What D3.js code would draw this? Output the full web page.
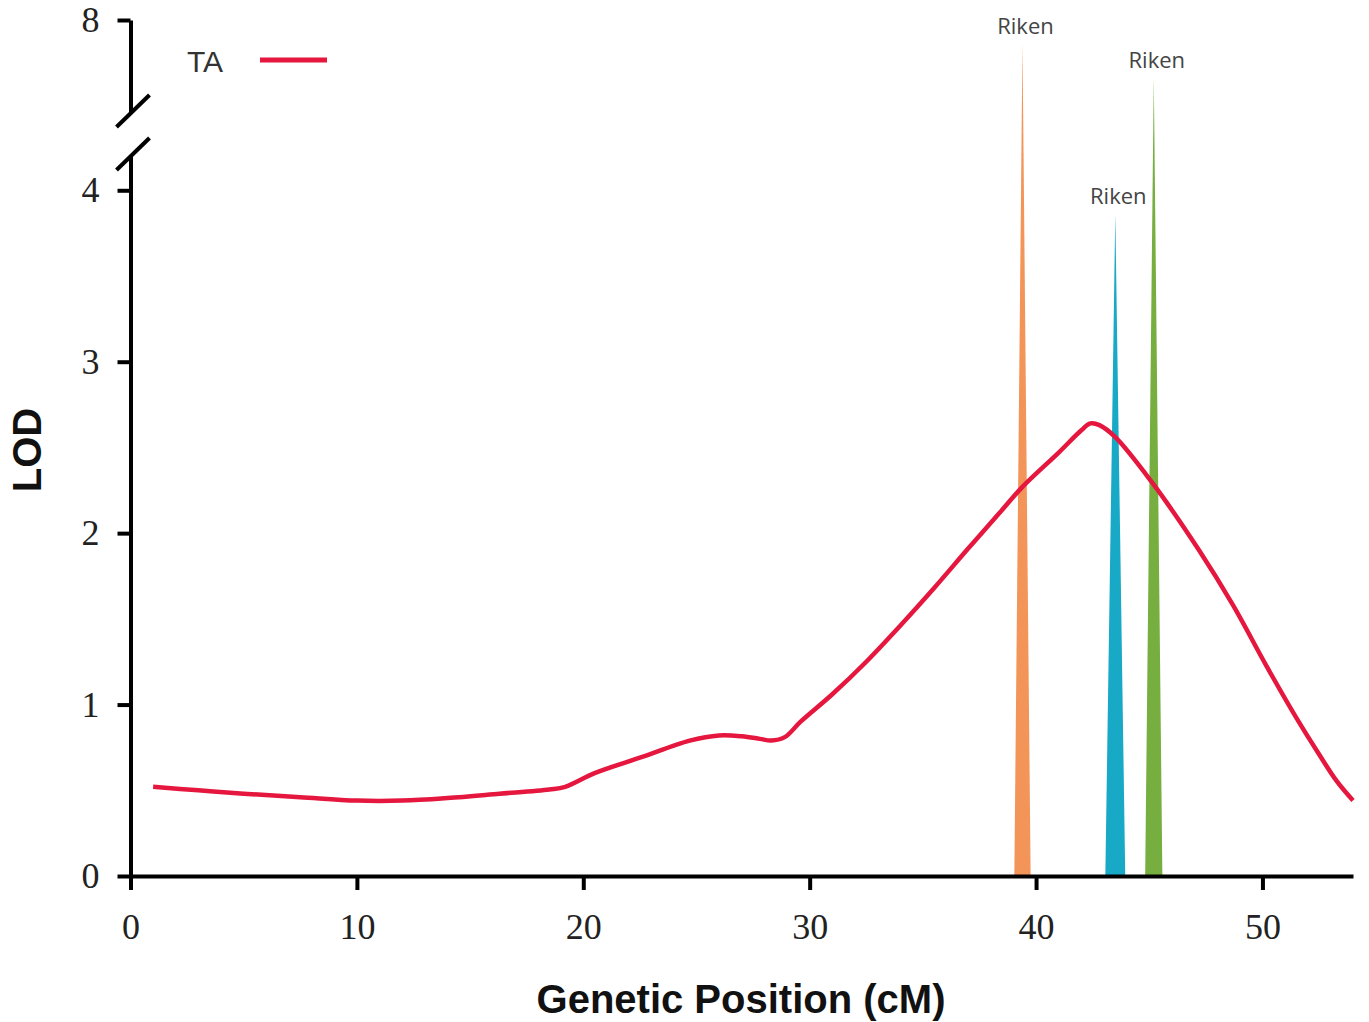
<!DOCTYPE html>
<html>
<head>
<meta charset="utf-8">
<script src="https://cdn.jsdelivr.net/npm/d3@7"></script>
<style>
  body { margin: 0; background: #fff; }
  svg { display: block; }
</style>
</head>
<body>
<div id="chart"></div>
<script>
// LOD curve for TA (position in cM, LOD score)
const positions = [1, 3, 5, 7.5, 10, 12, 14, 16.3, 18.5, 19.2, 20.5, 22.5, 24.7, 26.0, 27.0, 27.8, 28.3, 28.9,
  29.6, 31, 32.5, 34, 35.5, 37, 38.4, 39.4, 41.0, 42.0, 42.4, 42.8, 43.5, 45.1, 47.2, 48.7, 50.2, 51.6, 52.5, 53.3, 54.0];
const lodTA = [0.52, 0.50, 0.48, 0.46, 0.44, 0.44, 0.455, 0.48, 0.505, 0.52, 0.60, 0.69, 0.79, 0.82, 0.815, 0.80, 0.79, 0.81,
  0.90, 1.06, 1.25, 1.46, 1.68, 1.91, 2.12, 2.27, 2.47, 2.60, 2.64, 2.63, 2.56, 2.30, 1.90, 1.58, 1.22, 0.90, 0.71, 0.55, 0.44];

// Riken markers
const rikenLabels = ["Riken", "Riken", "Riken"];
const rikenPos = [39.4, 43.5, 45.2];
const rikenHeight = [7.82, 3.86, 7.56];
const rikenHalfWidth = [0.36, 0.44, 0.38];
const rikenColors = ["#f39559", "#17a9c6", "#76ae3f"];

const xTicks = [0, 10, 20, 30, 40, 50];
const yTicksLow = [0, 1, 2, 3, 4];
const yTicksHigh = [8];
const breakLow = 4.2, breakHigh = 7.3;

const width = 1369, height = 1022;
const svg = d3.select("#chart").append("svg")
  .attr("width", width).attr("height", height);

const x = d3.scaleLinear().domain([0, 54]).range([130.5, 1353]);
// piecewise y with the axis break between 4.2 and 7.3
const y = d3.scaleLinear().domain([0, breakLow, breakHigh, 8]).range([876, 156, 113, 20]);
const yLow = d3.scaleLinear().domain([0, breakLow]).range([y(0), y(breakLow)]);
const yHigh = d3.scaleLinear().domain([breakHigh, 8]).range([y(breakHigh), y(8)]);

// riken peaks
const peaks = rikenPos.map((p, i) => ({p, h: rikenHeight[i], w: rikenHalfWidth[i], c: rikenColors[i], label: rikenLabels[i]}));
svg.append("g").selectAll("path").data(peaks).enter().append("path")
  .attr("d", d => `M${x(d.p - d.w)},${y(0)}L${x(d.p)},${y(d.h)}L${x(d.p + d.w)},${y(0)}Z`)
  .attr("fill", d => d.c);
svg.append("g").selectAll("text").data(peaks).enter().append("text")
  .attr("x", d => x(d.p) + 3)
  .attr("y", d => y(d.h) - 10)
  .attr("text-anchor", "middle")
  .attr("font-family", "'Open Sans', sans-serif")
  .attr("font-size", 22)
  .attr("fill", "#444")
  .text(d => d.label);

// LOD line
const pts = positions.map((p, i) => [p, lodTA[i]]);
const line = d3.line().x(d => x(d[0])).y(d => y(d[1])).curve(d3.curveCatmullRom.alpha(0.5));
svg.append("path").datum(pts)
  .attr("d", line)
  .attr("fill", "none")
  .attr("stroke", "#e5173f")
  .attr("stroke-width", 4.5)
  .attr("stroke-linejoin", "round");

// axes
const tickFont = "'Liberation Serif', 'Times New Roman', serif";
function styleAxis(g) {
  g.selectAll("path, line").attr("stroke", "#000").attr("stroke-width", 4);
  g.selectAll("text").attr("font-family", tickFont).attr("font-size", 36).attr("fill", "#222");
}

svg.append("g")
  .attr("transform", `translate(0,${y(0)})`)
  .call(d3.axisBottom(x).tickValues(xTicks).tickFormat(d3.format("d"))
    .tickSize(14).tickSizeOuter(0).tickPadding(23))
  .call(styleAxis);

svg.append("g")
  .attr("transform", `translate(${x(0)},0)`)
  .call(d3.axisLeft(yLow).tickValues(yTicksLow).tickFormat(d3.format("d"))
    .tickSize(13).tickSizeOuter(0).tickPadding(18))
  .call(styleAxis);

svg.append("g")
  .attr("transform", `translate(${x(0)},0)`)
  .call(d3.axisLeft(yHigh).tickValues(yTicksHigh).tickFormat(d3.format("d"))
    .tickSize(13).tickSizeOuter(0).tickPadding(18))
  .call(styleAxis);

// break marks
svg.append("g").selectAll("line").data([breakLow, breakHigh]).enter().append("line")
  .attr("x1", x(0) - 14).attr("y1", d => y(d) + 14)
  .attr("x2", x(0) + 19).attr("y2", d => y(d) - 18)
  .attr("stroke", "#000").attr("stroke-width", 4);

// axis titles
svg.append("text")
  .attr("x", 741).attr("y", 1013)
  .attr("text-anchor", "middle")
  .attr("font-family", "'Liberation Sans', Arial, sans-serif")
  .attr("font-weight", "bold")
  .attr("font-size", 40)
  .attr("fill", "#111")
  .text("Genetic Position (cM)");

svg.append("text")
  .attr("transform", "translate(41,450) rotate(-90)")
  .attr("text-anchor", "middle")
  .attr("font-family", "'Liberation Sans', Arial, sans-serif")
  .attr("font-weight", "bold")
  .attr("font-size", 40)
  .attr("fill", "#111")
  .text("LOD");

// legend
svg.append("text")
  .attr("x", 187).attr("y", 72)
  .attr("font-family", "'Liberation Sans', Arial, sans-serif")
  .attr("font-size", 30)
  .attr("fill", "#333")
  .text("TA");
svg.append("line")
  .attr("x1", 260).attr("x2", 327).attr("y1", 60).attr("y2", 60)
  .attr("stroke", "#e5173f").attr("stroke-width", 5);
</script>
</body>
</html>
